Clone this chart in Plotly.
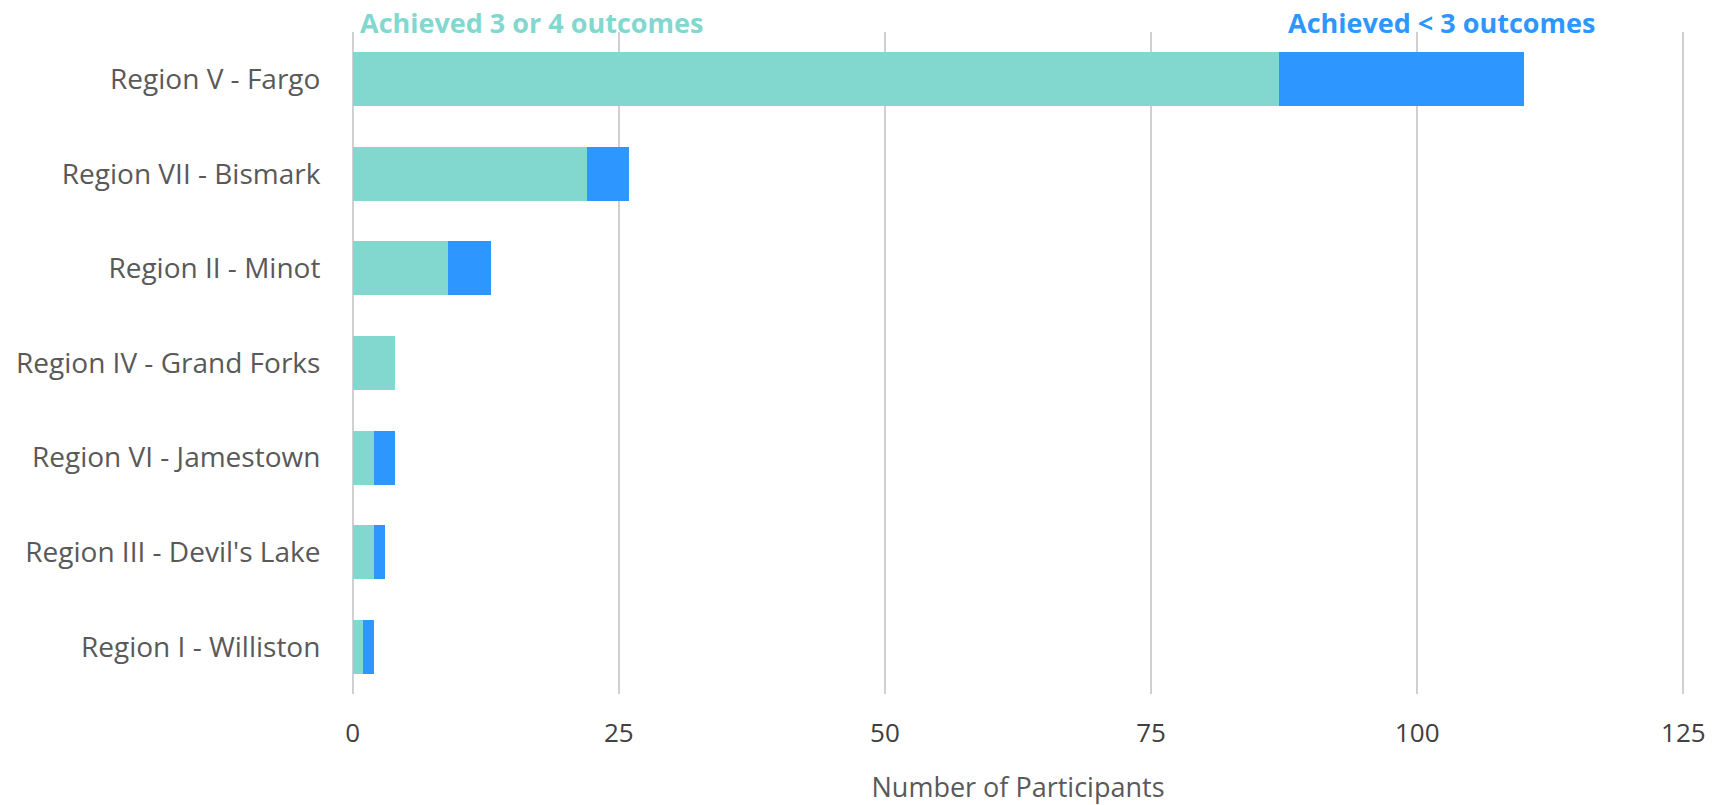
import plotly.graph_objects as go

regions = ["Region V - Fargo", "Region VII - Bismark", "Region II - Minot",
           "Region IV - Grand Forks", "Region VI - Jamestown",
           "Region III - Devil's Lake", "Region I - Williston"]
achieved_3_4 = [87, 22, 9, 4, 2, 2, 1]
achieved_lt3 = [23, 4, 4, 0, 2, 1, 1]
x_ticks = [0, 25, 50, 75, 100, 125]

GREEN = "#82D8CF"
BLUE = "#2E96FF"
GRAY = "#595959"
FONT = "Open Sans"

fig = go.Figure()
fig.add_trace(go.Bar(y=regions, x=achieved_3_4, orientation="h",
                     name="Achieved 3 or 4 outcomes", marker=dict(color=GREEN, line=dict(width=0))))
fig.add_trace(go.Bar(y=regions, x=achieved_lt3, orientation="h",
                     name="Achieved < 3 outcomes", marker=dict(color=BLUE, line=dict(width=0))))

fig.update_layout(
    barmode="stack",
    bargap=0.43,
    width=1729, height=805,
    margin=dict(l=351, r=44, t=32, b=111),
    plot_bgcolor="white", paper_bgcolor="white",
    showlegend=False,
    font=dict(family=FONT, color=GRAY, size=26),
    xaxis=dict(range=[-0.15, 125.15], tickvals=x_ticks, showgrid=True, gridcolor="#D0D0D0",
               gridwidth=1.5, zeroline=False, showline=False, automargin=False,
               ticks="outside", ticklen=16, tickcolor="rgba(0,0,0,0)",
               tickfont=dict(size=26, color="#404040", family=FONT),
               title=dict(text="Number of Participants", standoff=28,
                          font=dict(size=27, color=GRAY, family=FONT))),
    yaxis=dict(categoryorder="array", categoryarray=regions[::-1],
               showgrid=False, zeroline=False, showline=False, automargin=False,
               ticks="outside", ticklen=24, tickcolor="rgba(0,0,0,0)",
               tickfont=dict(size=28, color=GRAY, family=FONT)),
    annotations=[
        dict(text="<b>Achieved 3 or 4 outcomes</b>", xref="paper", yref="paper",
             x=0.005, y=1.015, xanchor="left", yanchor="middle", showarrow=False,
             font=dict(size=27, color=GREEN, family=FONT)),
        dict(text="<b>Achieved < 3 outcomes</b>", xref="paper", yref="paper",
             x=0.934, y=1.015, xanchor="right", yanchor="middle", showarrow=False,
             font=dict(size=27, color=BLUE, family=FONT)),
    ],
)

fig.write_html("out.html", config={"displayModeBar": False},
               post_script="document.body.style.margin='0';")
